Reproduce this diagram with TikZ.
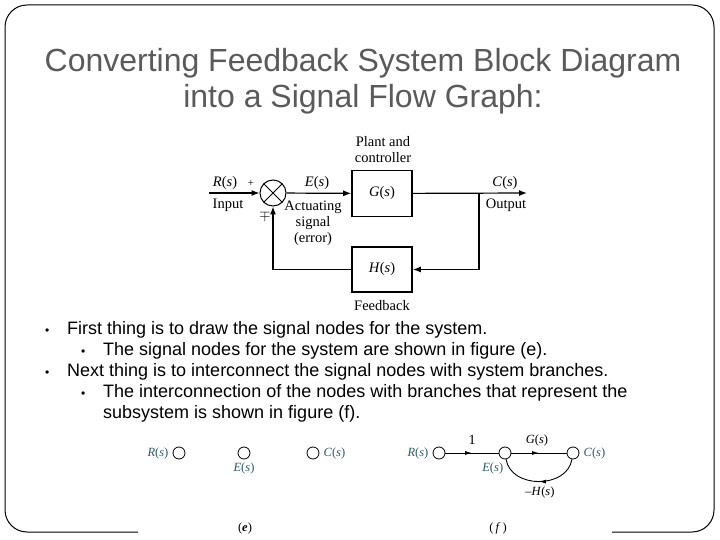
\documentclass[tikz,border=0pt]{standalone}
\usepackage{fontspec}
\setmainfont{Liberation Serif}
\newfontfamily\slidefont{Liberation Sans}
\usetikzlibrary{arrows.meta,decorations.markings}

\definecolor{titlegray}{RGB}{90,90,90}
\definecolor{sfgteal}{RGB}{45,90,105}
\newcommand\sig[1]{\textit{#1}(\textit{s})}

\tikzset{
    block/.style={draw, line width=1.6pt, minimum width=60pt, minimum height=46pt, font=\fontsize{14.5}{16}\selectfont},
    sumjunction/.style={draw, circle, line width=1pt, minimum size=26pt, inner sep=0pt,
        path picture={\draw[line width=1pt] (path picture bounding box.north west) -- (path picture bounding box.south east)
                      (path picture bounding box.north east) -- (path picture bounding box.south west);}},
    bdlabel/.style={font=\fontsize{14.5}{16}\selectfont, inner sep=0pt},
    signal/.style={line width=1.2pt, -{Latex[length=8pt,width=6pt]}},
    sfnode/.style={draw, circle, line width=0.8pt, minimum size=12pt, inner sep=0pt},
    nodelbl/.style={text=sfgteal, inner sep=0pt, label distance=4pt, font=\fontsize{12.5}{14}\selectfont},
    sflabel/.style={font=\fontsize{12.5}{14}\selectfont, inner sep=0pt},
    midarrow/.style={postaction={decorate}, decoration={markings,
        mark=at position 0.5 with {\arrow{Latex[length=7pt,width=4pt]}}}},
    bullettext/.style={anchor=base west, inner sep=0pt, font=\slidefont\fontsize{18}{21}\selectfont},
}

\begin{document}
\begin{tikzpicture}[x=1pt, y=-1pt]
    \useasboundingbox (0,0) rectangle (720,540);
    \draw[line width=1pt, rounded corners=22pt] (138,532) -- (5,532) -- (5,5) -- (714,5) -- (714,532) -- (612,532);

    % title
    \node[anchor=base, text=titlegray, font=\slidefont\fontsize{32}{36}\selectfont] (title1) at (363,72) {Converting Feedback System Block Diagram};
    \node[anchor=base, text=titlegray, font=\slidefont\fontsize{32}{36}\selectfont] (title2) at (363,108) {into a Signal Flow Graph:};

    % block diagram
    \node[sumjunction] (sum) at (273,193) {};
    \node[block] (plant) at (382,193.5) {\sig{G}};
    \node[block, minimum height=45pt] (fbblock) at (382,269.5) {\sig{H}};
    \coordinate (input) at (209,193);
    \coordinate (branch) at (479,193);
    \coordinate (output) at (527,193);

    \draw[signal] (input) -- (sum);
    \draw[signal] (sum) -- (plant);
    \draw[signal] (plant) -- (output);
    \draw[signal] (branch) |- (fbblock);
    \draw[signal] (fbblock) -| (sum);

    \node[bdlabel, align=center] (plantlbl) at (383,150) {Plant and\\controller};
    \node[bdlabel] (rlbl) at (225,183) {\sig{R}};
    \node[bdlabel] (inlbl) at (228,205) {Input};
    \node[bdlabel, font=\fontsize{11}{12}\selectfont] (plus) at (251,183) {+};
    \node[bdlabel] (minus) at (265,216) {$\mp$};
    \node[bdlabel] (elbl) at (317,183) {\sig{E}};
    \node[bdlabel, align=center] (actlbl) at (313,223) {Actuating\\signal\\(error)};
    \node[bdlabel] (clbl) at (505,183) {\sig{C}};
    \node[bdlabel] (outlbl) at (506,205) {Output};
    \node[bdlabel] (fblbl) at (382,306) {Feedback};

    % bullets
    \node[bullettext] (b1) at (45,334) {\fontsize{12}{12}\selectfont•};
    \node[bullettext] (t1) at (67,334) {First thing is to draw the signal nodes for the system.};
    \node[bullettext] (b2) at (81,355) {\fontsize{12}{12}\selectfont•};
    \node[bullettext] (t2) at (103,355) {The signal nodes for the system are shown in figure (e).};
    \node[bullettext] (b3) at (45,376) {\fontsize{12}{12}\selectfont•};
    \node[bullettext] (t3) at (67,376) {Next thing is to interconnect the signal nodes with system branches.};
    \node[bullettext] (b4) at (81,397) {\fontsize{12}{12}\selectfont•};
    \node[bullettext] (t4) at (103,397) {The interconnection of the nodes with branches that represent the};
    \node[bullettext] (t5) at (103,418) {subsystem is shown in figure (f).};

    % figure (e)
    \node[sfnode, label={[nodelbl]left:\sig{R}}] (eR) at (179,453) {};
    \node[sfnode, label={[nodelbl, label distance=3pt]below:\sig{E}}] (eE) at (244,453) {};
    \node[sfnode, label={[nodelbl]right:\sig{C}}] (eC) at (313,453) {};
    \node[sflabel] (ecap) at (245,528) {(\textbf{\textit{e}})};

    % figure (f)
    \node[sfnode, label={[nodelbl]left:\sig{R}}] (fR) at (439,453) {};
    \node[sfnode, label={[nodelbl, anchor=north east, label distance=3pt]-100:\sig{E}}] (fE) at (505,453) {};
    \node[sfnode, label={[nodelbl]right:\sig{C}}] (fC) at (573,453) {};
    \draw[line width=0.9pt, midarrow] (fR) -- (fE);
    \draw[line width=0.9pt, midarrow] (fE) -- (fC);
    \draw[line width=0.9pt, midarrow] (fC) .. controls +(-6,36) and +(6,36) .. (fE);
    \node[sflabel, font=\fontsize{14}{15}\selectfont] (one) at (472,440) {1};
    \node[sflabel] (glbl) at (537,440) {\sig{G}};
    \node[sflabel] (hlbl) at (540,492) {\textendash\sig{H}};
    \node[sflabel] (fcap) at (498,528) {(\,\textit{f}\,)};
\end{tikzpicture}
\end{document}
